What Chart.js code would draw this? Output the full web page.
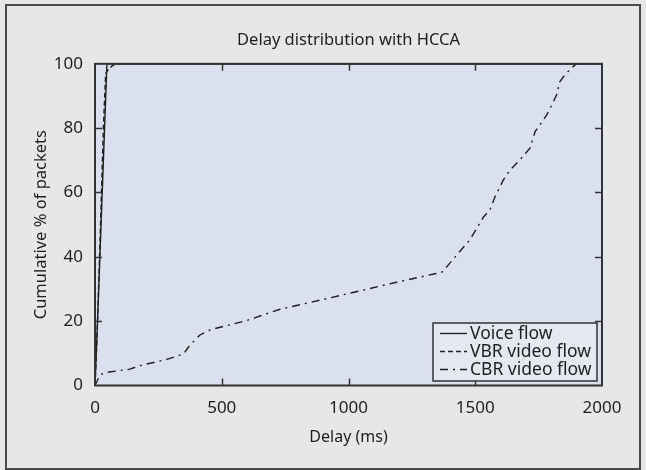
<!DOCTYPE html>
<html>
<head>
<meta charset="utf-8">
<script src="https://cdn.jsdelivr.net/npm/chart.js@4.4.1/dist/chart.umd.min.js"></script>
<style>
  html, body { margin: 0; padding: 0; background: #e6e7e9; }
</style>
</head>
<body>
<canvas id="graficoAtraso" width="646" height="470"></canvas>
<script>
// Dados (atraso em ms, % acumulada)
const voiceX = [0, 10, 47, 2000];
const voiceY = [0, 20, 100, 100];

const vbrX = [0, 8, 20, 33, 42, 55, 70, 100, 2000];
const vbrY = [0, 15, 45, 80, 97, 98.5, 99.5, 100, 100];

const cbrX = [0, 20, 39, 138, 178, 283, 349, 375, 414, 454, 598, 730, 848, 1006, 1190, 1368,
  1394, 1433, 1479, 1506, 1532, 1558, 1578, 1611, 1637, 1670, 1716, 1736, 1755, 1782, 1802,
  1821, 1834, 1854, 1887, 1900];
const cbrY = [0, 3.3, 4, 5.1, 6.2, 8.1, 9.8, 12.6, 15.7, 17.3, 20.2, 23.7, 25.8, 28.7, 32.1, 35.2,
  37.5, 41.1, 45.3, 48.9, 52.3, 54.6, 58.7, 63.9, 67, 69.6, 73.8, 78.9, 81, 84.1, 87.2,
  90.4, 94.5, 96.6, 99.2, 100];

const seriesLabels = ['Voice flow', 'VBR video flow', 'CBR video flow'];
const xTicks = [0, 500, 1000, 1500, 2000];
const yTicks = [0, 20, 40, 60, 80, 100];

const fonte = '"Noto Sans", "Open Sans", sans-serif';
const corLinha = '#1e1e1e';

function juntar(xs, ys) {
  return xs.map((x, i) => ({ x: x, y: ys[i] }));
}

// moldura, fundo da área do gráfico, ticks internos e legenda
const moldura = {
  id: 'moldura',
  beforeDraw(chart) {
    const { ctx, chartArea: a } = chart;
    ctx.save();
    ctx.fillStyle = '#e6e7e9';
    ctx.fillRect(0, 0, chart.width, chart.height);
    ctx.strokeStyle = '#4a4a4a';
    ctx.lineWidth = 2;
    ctx.strokeRect(6, 5, 634, 464);
    ctx.fillStyle = '#dae0ed';
    ctx.fillRect(a.left, a.top, a.right - a.left, a.bottom - a.top);
    ctx.restore();
  },
  afterDatasetsDraw(chart) {
    const { ctx, chartArea: a, scales } = chart;
    const t = 7;
    ctx.save();
    ctx.strokeStyle = '#333';
    ctx.lineWidth = 1.5;
    ctx.beginPath();
    xTicks.slice(1, -1).forEach(v => {
      const px = Math.round(scales.x.getPixelForValue(v)) + 0.5;
      ctx.moveTo(px, a.bottom); ctx.lineTo(px, a.bottom - t);
      ctx.moveTo(px, a.top); ctx.lineTo(px, a.top + t);
    });
    yTicks.slice(1, -1).forEach(v => {
      const py = Math.round(scales.y.getPixelForValue(v)) + 0.5;
      ctx.moveTo(a.left, py); ctx.lineTo(a.left + t, py);
      ctx.moveTo(a.right, py); ctx.lineTo(a.right - t, py);
    });
    ctx.stroke();
    ctx.lineWidth = 2;
    ctx.strokeRect(a.left, a.top, a.right - a.left, a.bottom - a.top);

    // legenda dentro do gráfico, canto inferior direito
    const lx = 433, ly = 323, lw = 164, lh = 58;
    ctx.fillStyle = '#e4e8f1';
    ctx.fillRect(lx, ly, lw, lh);
    ctx.lineWidth = 1.5;
    ctx.strokeStyle = '#333';
    ctx.strokeRect(lx, ly, lw, lh);
    ctx.font = '17.5px ' + fonte;
    ctx.textBaseline = 'middle';
    ctx.fillStyle = '#1e1e1e';
    chart.data.datasets.forEach((ds, i) => {
      const yy = ly + 10.5 + i * 18;
      ctx.beginPath();
      ctx.setLineDash(ds.borderDash || []);
      ctx.lineWidth = 1.3;
      ctx.strokeStyle = corLinha;
      ctx.moveTo(440, yy);
      ctx.lineTo(467, yy);
      ctx.stroke();
      ctx.setLineDash([]);
      ctx.fillText(ds.label, 470, yy + 1);
    });
    ctx.restore();
  }
};

const ctx = document.getElementById('graficoAtraso').getContext('2d');
new Chart(ctx, {
  type: 'line',
  data: {
    datasets: [
      { label: seriesLabels[0], data: juntar(voiceX, voiceY), borderDash: [] },
      { label: seriesLabels[1], data: juntar(vbrX, vbrY), borderDash: [5, 3] },
      { label: seriesLabels[2], data: juntar(cbrX, cbrY), borderDash: [8, 5, 2, 5] }
    ].map(ds => Object.assign(ds, {
      borderColor: corLinha,
      borderWidth: 1.4,
      pointRadius: 0,
      tension: 0,
      fill: false
    }))
  },
  options: {
    responsive: false,
    animation: false,
    layout: { padding: { top: 8, left: 0, right: 44, bottom: 0 } },
    plugins: {
      legend: { display: false },
      tooltip: { enabled: false },
      title: {
        display: true,
        fullSize: false,
        text: 'Delay distribution with HCCA',
        color: '#1e1e1e',
        font: { family: fonte, size: 16.5, weight: 'normal' },
        padding: { top: 22, bottom: 14 }
      }
    },
    scales: {
      x: {
        type: 'linear',
        min: 0,
        max: 2000,
        afterBuildTicks: s => { s.ticks = xTicks.map(v => ({ value: v })); },
        afterFit: s => { s.height = 84.5; },
        grid: { display: false, drawTicks: false },
        border: { display: false },
        ticks: {
          color: '#1e1e1e',
          font: { family: fonte, size: 17 },
          padding: 12,
          maxRotation: 0,
          callback: v => String(v)
        },
        title: {
          display: true,
          text: 'Delay (ms)',
          color: '#1e1e1e',
          font: { family: fonte, size: 16 },
          padding: { top: 0, bottom: 23 }
        }
      },
      y: {
        min: 0,
        max: 100,
        afterBuildTicks: s => { s.ticks = yTicks.map(v => ({ value: v })); },
        afterFit: s => { s.width = 95; },
        grid: { display: false, drawTicks: false },
        border: { display: false },
        ticks: {
          color: '#1e1e1e',
          font: { family: fonte, size: 17 },
          padding: 12,
          callback: v => String(v)
        },
        title: {
          display: true,
          text: 'Cumulative % of packets',
          color: '#1e1e1e',
          font: { family: fonte, size: 16.5 },
          padding: { top: 31, bottom: 0 }
        }
      }
    }
  },
  plugins: [moldura]
});
</script>
</body>
</html>
